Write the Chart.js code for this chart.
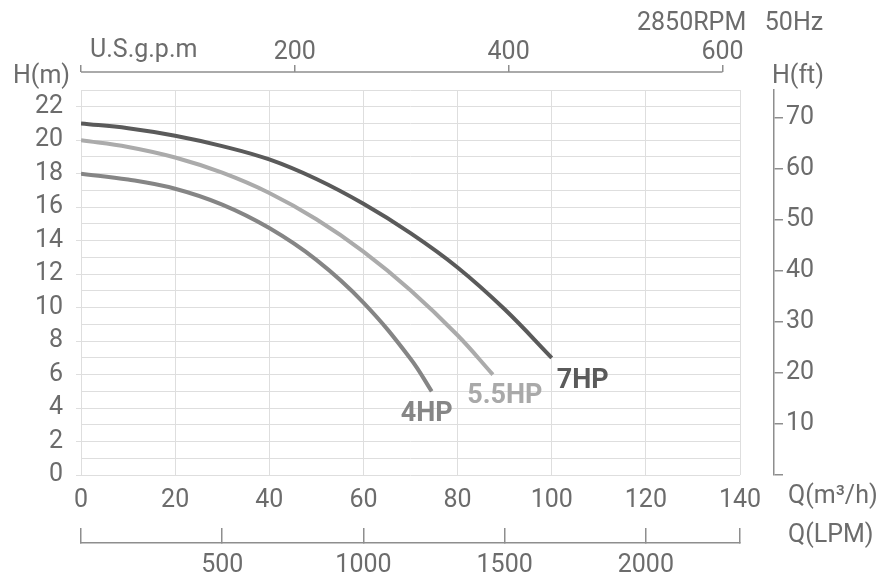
<!DOCTYPE html>
<html>
<head>
<meta charset="utf-8">
<script src="https://cdn.jsdelivr.net/npm/chart.js@4/dist/chart.umd.min.js"></script>
<style>
  body { margin: 0; background: #fff; }
  #wrap { width: 883px; height: 574px; position: relative; }
</style>
</head>
<body>
<div id="wrap"><canvas id="pumpChart"></canvas></div>
<script>
// Pump curves, flow Q in m3/h and head H in m
const curveNames = ['7HP', '5.5HP', '4HP'];
const q7  = [0, 10, 20, 30, 40, 50, 60, 70, 80, 90, 100];
const h7  = [21, 20.72, 20.27, 19.65, 18.85, 17.68, 16.2, 14.45, 12.4, 9.9, 7];
const q55 = [0, 10, 20, 30, 40, 50, 60, 70, 80, 87.5];
const h55 = [20, 19.6, 18.97, 18.06, 16.85, 15.28, 13.35, 11.04, 8.35, 6];
const q4  = [0, 10, 20, 30, 40, 50, 60, 70, 74.5];
const h4  = [18, 17.65, 17.1, 16.15, 14.75, 12.85, 10.3, 6.95, 5];

// axis ranges / tick labels
const qMax = 140, hMax = 23;
const gpmTicks = [200, 400, 600];
const lpmTicks = [500, 1000, 1500, 2000];
const ftTicks = [10, 20, 30, 40, 50, 60, 70];

// unit conversions for the secondary axes
const M3H_PER_GPM = 0.227125;
const FT_PER_M = 3.28084;

const gridColor = '#dedede';
const axisColor = '#8e8e8e';
const textColor = '#6c6c6c';
const lineColors = ['#5a5a5a', '#ababab', '#858585'];
const font = { family: 'Roboto, sans-serif', size: 25 };

function pts(qs, hs) {
  return qs.map((q, i) => ({ x: q, y: hs[i] }));
}

const series = [pts(q7, h7), pts(q55, h55), pts(q4, h4)];

// label offsets from each curve's last point
const labelStyle = [
  { dx: 5, dy: 23, align: 'left', color: '#5a5a5a' },
  { dx: 12, dy: 22, align: 'center', color: '#a9a9a9' },
  { dx: -5, dy: 23, align: 'center', color: '#868686' }
];

const textPlugin = {
  id: 'texts',
  afterDraw(chart) {
    const c = chart.ctx;
    const s = chart.scales;
    c.save();

    // upper gpm axis line, only up to the 600 tick
    const g = s.gpm;
    c.strokeStyle = axisColor;
    c.lineWidth = 1.5;
    c.beginPath();
    c.moveTo(g.getPixelForValue(0), g.bottom);
    c.lineTo(g.getPixelForValue(600), g.bottom);
    c.stroke();

    c.fillStyle = textColor;
    c.textBaseline = 'middle';
    c.textAlign = 'left';
    c.font = '25px Roboto, sans-serif';
    c.fillText('H(m)', 13, 77);
    c.fillText('U.S.g.p.m', 90, 51);
    c.fillText('2850RPM   50Hz', 637, 24);
    c.fillText('H(ft)', 772, 77);
    c.fillText('Q(m³/h)', 788, 497);
    c.fillText('Q(LPM)', 788, 536);

    // curve names next to the curve ends
    c.font = 'bold 27px Roboto, sans-serif';
    chart.data.datasets.forEach((ds, i) => {
      const last = ds.data[ds.data.length - 1];
      const st = labelStyle[i];
      c.fillStyle = st.color;
      c.textAlign = st.align;
      c.fillText(curveNames[i], s.x.getPixelForValue(last.x) + st.dx, s.y.getPixelForValue(last.y) + st.dy);
    });
    c.restore();
  }
};

new Chart(document.getElementById('pumpChart'), {
  type: 'scatter',
  data: {
    datasets: series.map((d, i) => ({
      label: curveNames[i],
      data: d,
      showLine: true,
      borderColor: lineColors[i],
      borderWidth: 4,
      pointRadius: 0,
      tension: 0.4
    }))
  },
  plugins: [textPlugin],
  options: {
    responsive: true,
    maintainAspectRatio: false,
    animation: false,
    layout: { padding: 0 },
    plugins: {
      legend: { display: false },
      tooltip: { enabled: false }
    },
    scales: {
      x: {
        type: 'linear', position: 'bottom', weight: 0,
        min: 0, max: qMax,
        ticks: { stepSize: 20, padding: 11, color: textColor, font: font, maxRotation: 0, autoSkip: false },
        grid: { color: gridColor, drawTicks: false },
        border: { display: false },
        afterFit: sc => { sc.height = 68; }
      },
      lpm: {
        type: 'linear', position: 'bottom', weight: 1,
        min: 0, max: qMax * 1000 / 60,
        afterBuildTicks: sc => { sc.ticks = [0, ...lpmTicks, sc.max].map(v => ({ value: v })); },
        ticks: {
          padding: 23, color: textColor, font: font, maxRotation: 0, autoSkip: false,
          callback: v => lpmTicks.includes(v) ? v : ''
        },
        grid: { drawOnChartArea: false, tickLength: -15, color: axisColor, lineWidth: 1.5 },
        border: { color: axisColor, width: 1.5 },
        afterFit: sc => { sc.height = 31; }
      },
      y: {
        type: 'linear', position: 'left',
        min: 0, max: hMax,
        ticks: {
          stepSize: 1, padding: 13, color: textColor, font: font, autoSkip: false,
          callback: v => v % 2 === 0 ? v : ''
        },
        grid: {
          color: gridColor, tickLength: 5,
          tickColor: ctx => (ctx.tick && ctx.tick.value % 2 === 0) ? gridColor : 'rgba(0,0,0,0)'
        },
        border: { display: false },
        afterFit: sc => { sc.width = 81; }
      },
      gapRight: {
        type: 'linear', position: 'right', weight: 0,
        ticks: { display: false },
        grid: { display: false },
        border: { display: false },
        afterFit: sc => { sc.width = 34; }
      },
      ft: {
        type: 'linear', position: 'right', weight: 1,
        min: 0, max: hMax * FT_PER_M,
        afterBuildTicks: sc => { sc.ticks = [0, ...ftTicks].map(v => ({ value: v })); },
        ticks: {
          padding: 3, color: textColor, font: font, autoSkip: false,
          callback: v => ftTicks.includes(v) ? v : ''
        },
        grid: { drawOnChartArea: false, tickLength: 9, color: axisColor, lineWidth: 1.5 },
        border: { color: axisColor, width: 1.5 },
        afterFit: sc => { sc.width = 109; }
      },
      gapTop: {
        type: 'linear', position: 'top', weight: 0,
        ticks: { display: false },
        grid: { display: false },
        border: { display: false },
        afterFit: sc => { sc.height = 18; }
      },
      gpm: {
        type: 'linear', position: 'top', weight: 1,
        min: 0, max: qMax / M3H_PER_GPM,
        afterBuildTicks: sc => { sc.ticks = [0, ...gpmTicks].map(v => ({ value: v })); },
        ticks: {
          padding: -3, color: textColor, font: font, maxRotation: 0, autoSkip: false,
          callback: v => gpmTicks.includes(v) ? v : ''
        },
        grid: { drawOnChartArea: false, tickLength: 7, color: axisColor, lineWidth: 1.5 },
        border: { display: false },
        afterFit: sc => { sc.height = 72; }
      }
    }
  }
});
</script>
</body>
</html>
